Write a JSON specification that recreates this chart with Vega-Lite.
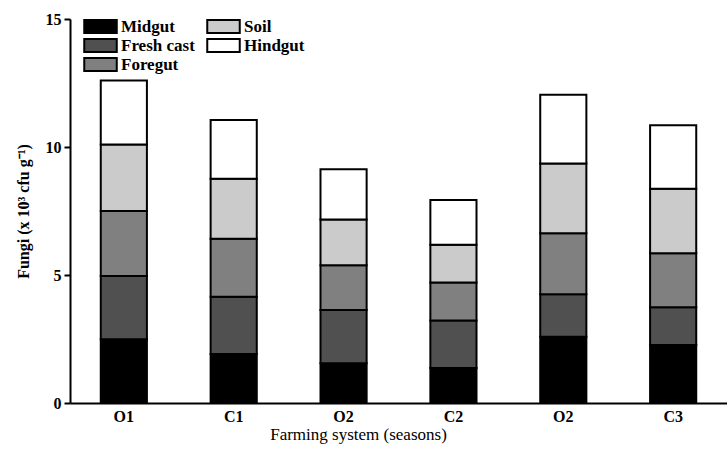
{
  "$schema": "https://vega.github.io/schema/vega-lite/v6.json",
  "width": 657,
  "height": 384,
  "autosize": {"type": "none"},
  "padding": {"left": 70, "top": 19, "right": 0, "bottom": 46},
  "background": "white",
  "config": {
    "view": {"stroke": null},
    "font": "Liberation Serif"
  },
  "data": {
    "values": [
      {"grp": "O1", "part": "Midgut", "value": 2.49},
      {"grp": "O1", "part": "Fresh cast", "value": 2.47},
      {"grp": "O1", "part": "Foregut", "value": 2.54},
      {"grp": "O1", "part": "Soil", "value": 2.6},
      {"grp": "O1", "part": "Hindgut", "value": 2.5},
      {"grp": "C1", "part": "Midgut", "value": 1.91},
      {"grp": "C1", "part": "Fresh cast", "value": 2.24},
      {"grp": "C1", "part": "Foregut", "value": 2.27},
      {"grp": "C1", "part": "Soil", "value": 2.34},
      {"grp": "C1", "part": "Hindgut", "value": 2.29},
      {"grp": "O2a", "part": "Midgut", "value": 1.55},
      {"grp": "O2a", "part": "Fresh cast", "value": 2.08},
      {"grp": "O2a", "part": "Foregut", "value": 1.75},
      {"grp": "O2a", "part": "Soil", "value": 1.79},
      {"grp": "O2a", "part": "Hindgut", "value": 1.96},
      {"grp": "C2", "part": "Midgut", "value": 1.37},
      {"grp": "C2", "part": "Fresh cast", "value": 1.85},
      {"grp": "C2", "part": "Foregut", "value": 1.49},
      {"grp": "C2", "part": "Soil", "value": 1.47},
      {"grp": "C2", "part": "Hindgut", "value": 1.75},
      {"grp": "O2b", "part": "Midgut", "value": 2.59},
      {"grp": "O2b", "part": "Fresh cast", "value": 1.66},
      {"grp": "O2b", "part": "Foregut", "value": 2.38},
      {"grp": "O2b", "part": "Soil", "value": 2.73},
      {"grp": "O2b", "part": "Hindgut", "value": 2.68},
      {"grp": "C3", "part": "Midgut", "value": 2.27},
      {"grp": "C3", "part": "Fresh cast", "value": 1.47},
      {"grp": "C3", "part": "Foregut", "value": 2.11},
      {"grp": "C3", "part": "Soil", "value": 2.52},
      {"grp": "C3", "part": "Hindgut", "value": 2.48}
    ]
  },
  "transform": [
    {"calculate": "indexof(['Midgut','Fresh cast','Foregut','Soil','Hindgut'], datum.part)", "as": "layer"}
  ],
  "mark": {"type": "bar", "stroke": "black", "strokeWidth": 2},
  "encoding": {
    "x": {
      "field": "grp",
      "type": "nominal",
      "sort": ["O1", "C1", "O2a", "C2", "O2b", "C3"],
      "scale": {"paddingInner": 0.58, "paddingOuter": 0.28},
      "axis": {
        "title": "Farming system (seasons)",
        "titleFont": "Liberation Serif",
        "titleFontSize": 17,
        "titleFontWeight": "normal",
        "titleColor": "black",
        "titleX": 288,
        "titlePadding": 2,
        "labelExpr": "datum.label == 'O2a' || datum.label == 'O2b' ? 'O2' : datum.label",
        "labelAngle": 0,
        "labelFont": "Liberation Serif",
        "labelFontSize": 16,
        "labelFontWeight": "bold",
        "labelColor": "black",
        "labelPadding": 5,
        "ticks": false,
        "domainColor": "black",
        "domainWidth": 2
      }
    },
    "y": {
      "field": "value",
      "type": "quantitative",
      "stack": "zero",
      "scale": {"domain": [0, 15], "nice": false},
      "axis": {
        "title": "Fungi (x 10³ cfu g⁻¹)",
        "titleFont": "Liberation Serif",
        "titleFontSize": 16,
        "titleFontWeight": "bold",
        "titleColor": "black",
        "titlePadding": 14,
        "values": [0, 5, 10, 15],
        "grid": false,
        "labelFont": "Liberation Serif",
        "labelFontSize": 16,
        "labelFontWeight": "bold",
        "labelColor": "black",
        "labelPadding": 3,
        "tickColor": "black",
        "tickSize": 6,
        "tickWidth": 2,
        "domainColor": "black",
        "domainWidth": 2
      }
    },
    "color": {
      "field": "part",
      "type": "nominal",
      "scale": {
        "domain": ["Midgut", "Fresh cast", "Foregut", "Soil", "Hindgut"],
        "range": ["#000000", "#505050", "#808080", "#cbcbcb", "#ffffff"]
      },
      "legend": {
        "title": null,
        "orient": "none",
        "legendX": 22,
        "legendY": -1,
        "columns": 2,
        "columnPadding": 8,
        "rowPadding": -12,
        "symbolType": "M-2.5,-1L2.5,-1L2.5,1L-2.5,1Z",
        "symbolSize": 169,
        "symbolStrokeColor": "black",
        "symbolStrokeWidth": 2,
        "symbolOpacity": 1,
        "labelFont": "Liberation Serif",
        "labelFontSize": 17,
        "labelFontWeight": "bold",
        "labelColor": "black",
        "labelOffset": 12
      }
    },
    "order": {"field": "layer", "type": "quantitative", "sort": "ascending"}
  }
}
